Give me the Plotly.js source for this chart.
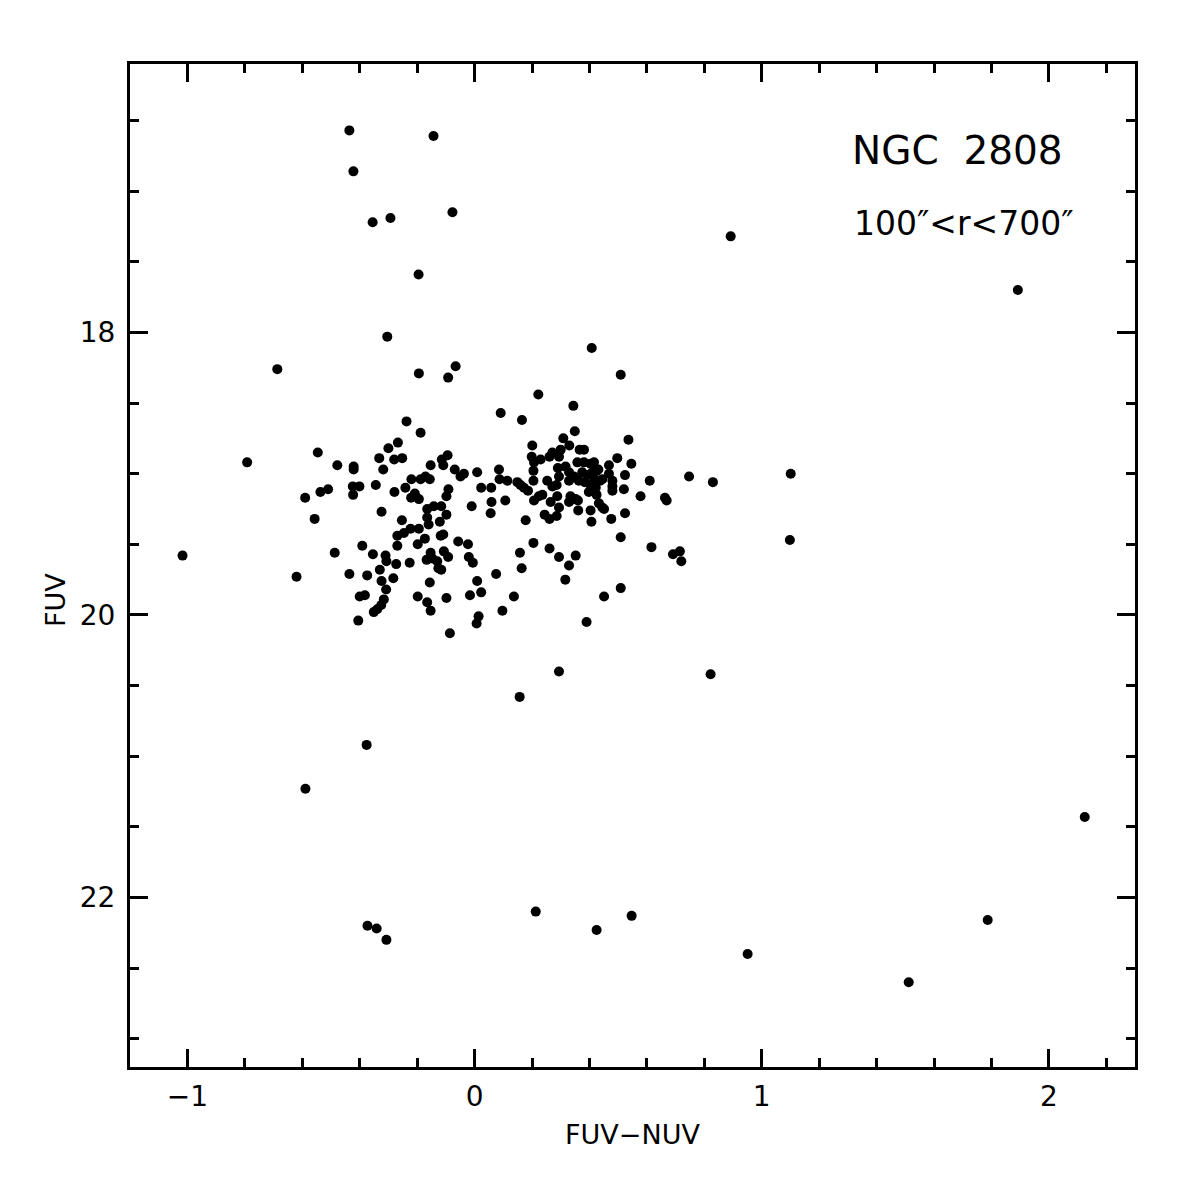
<!DOCTYPE html>
<html>
<head>
<meta charset="utf-8">
<script src="https://cdn.plot.ly/plotly-3.0.1.min.js"></script>
<style>html,body{margin:0;padding:0;background:#fff;}#chart{width:1196px;height:1196px;}</style>
</head>
<body>
<div id="chart"></div>
<script>
// FUV-NUV colour (x) and FUV magnitude (y) for each star
const fuvNuv = [
 -0.436,-0.143,-0.422,-0.355,-0.293,-0.077,0.892,-0.195,1.892,-0.304,-0.687,0.408,-0.194,-0.092,-0.066,0.509,-0.792,1.101,1.098,-1.017,-0.620,0.822,0.294,0.157,-0.376,-0.589,2.125,0.213,0.547,1.787,-0.373,-0.341,-0.307,0.425,0.951,1.512,
 0.222,0.344,0.091,0.165,0.349,0.309,0.536,0.201,0.330,0.366,0.381,0.271,0.300,0.199,0.230,0.261,0.294,0.497,
 -0.237,-0.188,-0.267,-0.300,-0.546,-0.094,-0.114,-0.332,-0.280,-0.252,-0.109,-0.153,-0.478,-0.421,-0.421,-0.318,-0.069,-0.037,-0.049,0.009,-0.220,-0.188,-0.171,-0.156,-0.344,-0.424,-0.401,-0.423,-0.510,-0.537,-0.590,-0.279,-0.241,-0.208,-0.221,-0.194,-0.091,-0.098,0.023,-0.010,-0.557,-0.324,-0.253,-0.165,-0.142,-0.116,-0.165,-0.098,-0.121,-0.160,-0.223,-0.194,
 -0.269,-0.246,-0.198,-0.173,-0.118,-0.109,-0.057,-0.023,-0.391,-0.269,-0.487,-0.354,-0.310,-0.307,-0.273,-0.226,-0.153,-0.167,-0.147,-0.130,-0.107,-0.092,-0.020,-0.006,-0.330,-0.436,-0.374,-0.126,-0.116,-0.324,-0.283,-0.156,0.009,-0.308,-0.400,-0.382,-0.316,-0.325,-0.339,-0.351,-0.198,-0.165,-0.153,-0.098,-0.016,0.023,-0.405,-0.086,0.014,0.007,
 0.085,0.087,0.114,0.149,0.160,0.172,0.186,0.058,0.059,0.056,
 0.107,0.178,0.207,0.224,0.236,0.207,0.205,0.205,0.253,0.271,
 0.286,0.294,0.290,0.317,0.329,0.329,0.346,0.358,0.381,0.404,
 0.416,0.375,0.393,0.363,0.384,0.410,0.425,0.418,0.437,0.445,
 0.431,0.404,0.422,0.398,0.425,0.468,0.546,0.468,0.480,0.480,
 0.480,0.524,0.520,0.610,0.747,0.830,0.578,0.663,0.669,0.288,
 0.265,0.294,0.329,0.334,0.352,0.360,0.361,0.404,0.433,0.445,
 0.451,0.407,0.476,0.524,0.244,0.261,0.286,0.509,0.616,0.691,
 0.715,0.720,0.205,0.261,0.158,0.294,0.352,0.329,0.164,0.075,
 0.316,
 0.137,0.509,0.451,0.097,0.390
];
const fuv = [
 16.57,16.61,16.86,17.22,17.19,17.15,17.32,17.59,17.70,18.03,18.26,18.11,18.29,18.32,18.24,18.30,18.92,19.00,19.47,19.58,19.73,20.42,20.40,20.58,20.92,21.23,21.43,22.10,22.13,22.16,22.20,22.22,22.30,22.23,22.40,22.60,
 18.44,18.52,18.57,18.62,18.70,18.75,18.76,18.80,18.80,18.83,18.83,18.85,18.83,18.88,18.90,18.88,18.88,18.89,
 18.63,18.71,18.78,18.82,18.85,18.87,18.90,18.89,18.90,18.89,18.94,18.94,18.94,18.95,18.97,18.97,18.97,19.00,19.02,18.99,19.04,19.04,19.02,19.04,19.08,19.09,19.09,19.15,19.11,19.13,19.17,19.13,19.10,19.14,19.17,19.18,19.11,19.16,19.10,19.23,19.32,19.27,19.33,19.25,19.23,19.23,19.31,19.29,19.34,19.36,19.39,19.39,
 19.44,19.42,19.50,19.46,19.44,19.43,19.48,19.50,19.51,19.51,19.56,19.57,19.58,19.62,19.64,19.63,19.56,19.61,19.60,19.62,19.55,19.59,19.59,19.63,19.68,19.71,19.72,19.67,19.68,19.76,19.74,19.77,19.76,19.82,19.87,19.86,19.89,19.93,19.96,19.98,19.87,19.91,19.97,19.88,19.86,19.84,20.04,20.13,20.01,20.06,
 18.97,19.04,19.05,19.06,19.08,19.10,19.12,19.10,19.20,19.28,
 19.19,19.33,19.19,19.16,19.15,18.92,18.98,19.05,19.05,19.09,
 19.08,19.02,18.96,18.95,18.99,19.05,19.02,18.92,18.92,18.93,
 18.92,18.99,19.01,19.05,19.06,18.99,18.98,19.04,19.05,19.04,
 18.97,19.08,19.10,19.13,19.15,18.94,18.93,19.00,19.05,19.09,
 19.12,19.01,19.11,19.05,19.02,19.06,19.16,19.17,19.19,19.16,
 19.20,19.24,19.20,19.16,19.18,19.19,19.26,19.26,19.21,19.24,
 19.25,19.34,19.32,19.28,19.29,19.32,19.30,19.45,19.52,19.57,
 19.55,19.62,19.49,19.53,19.56,19.59,19.58,19.65,19.67,19.71,
 19.75,
 19.87,19.81,19.87,19.97,20.05
];
const xRange = [-1.2, 2.3];
const yRange = [23.2, 16.1];
const titleText = 'NGC\u00a0\u00a02808';
const radiusText = '100\u2033<r<700\u2033';
const xTitle = 'FUV\u2212NUV';
const yTitle = 'FUV';

const FONT = 'DejaVu Sans, Arial, sans-serif';
const trace = {
  x: fuvNuv, y: fuv, type: 'scatter', mode: 'markers',
  marker: {color: '#000', size: 10, line: {width: 0}},
  hoverinfo: 'none'
};
const axisCommon = {
  showline: true, linewidth: 3, linecolor: '#000', mirror: 'ticks',
  ticks: 'inside', tickwidth: 3, tickcolor: '#000',
  showgrid: false, zeroline: false,
  tickfont: {family: FONT, size: 28, color: '#000'}
};
const layout = {
  width: 1196, height: 1196,
  margin: {l: 130, r: 61, t: 64, b: 129, pad: 0},
  paper_bgcolor: '#fff', plot_bgcolor: '#fff',
  showlegend: false,
  xaxis: Object.assign({}, axisCommon, {
    range: xRange, tick0: 0, dtick: 1, ticklen: 18,
    ticklabelstandoff: 2,
    minor: {dtick: 0.2, tick0: 0, ticklen: 9, tickwidth: 3, tickcolor: '#000', ticks: 'inside', showgrid: false},
    title: {text: xTitle, font: {family: FONT, size: 27, color: '#000'}, standoff: 14}
  }),
  yaxis: Object.assign({}, axisCommon, {
    range: yRange, tick0: 0, dtick: 2, ticklen: 18,
    ticklabelstandoff: 6,
    minor: {dtick: 0.5, tick0: 0, ticklen: 9, tickwidth: 3, tickcolor: '#000', ticks: 'inside', showgrid: false}
  }),
  annotations: [
    {text: titleText, xref: 'paper', yref: 'paper', x: 0.7164, y: 0.914, xanchor: 'left', yanchor: 'middle', showarrow: false, font: {family: FONT, size: 39, color: '#000'}},
    {text: radiusText, xref: 'paper', yref: 'paper', x: 0.7184, y: 0.8405, xanchor: 'left', yanchor: 'middle', showarrow: false, font: {family: FONT, size: 33, color: '#000'}},
    {text: yTitle, xref: 'paper', yref: 'paper', x: -0.0746, y: 0.4656, xanchor: 'center', yanchor: 'middle', textangle: -90, showarrow: false, font: {family: FONT, size: 27, color: '#000'}}
  ]
};
Plotly.newPlot('chart', [trace], layout, {displayModeBar: false, staticPlot: true});
</script>
</body>
</html>
